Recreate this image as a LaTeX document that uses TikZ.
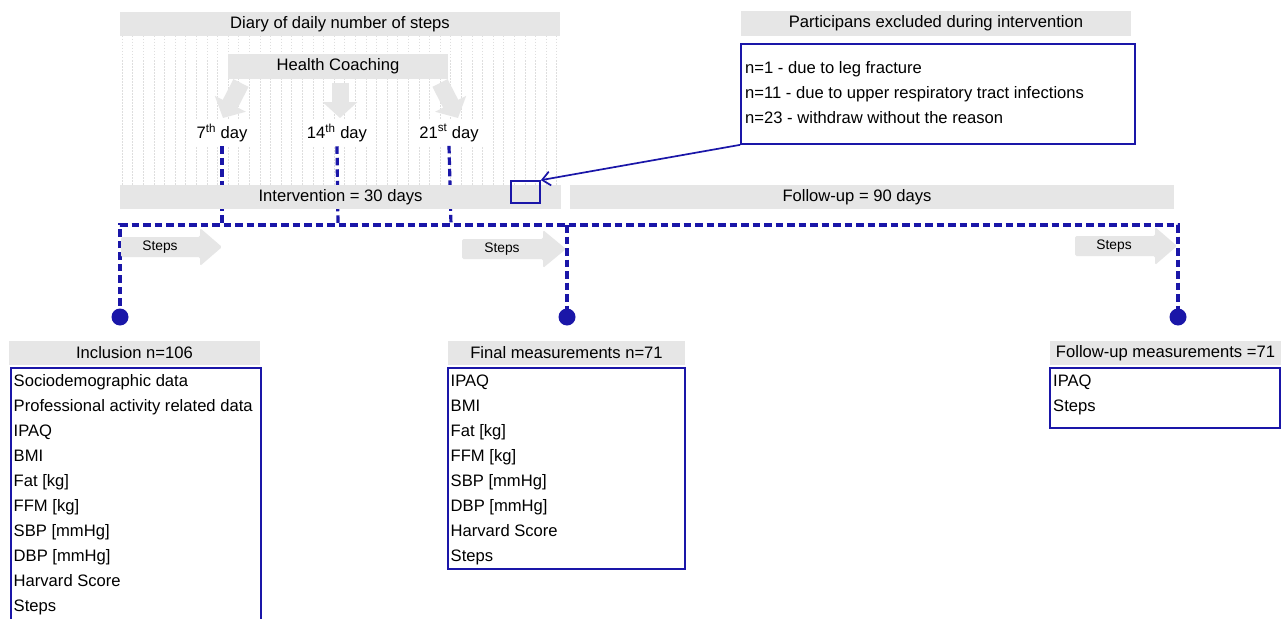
\documentclass[tikz,border=0pt]{standalone}
\usepackage{fontspec}
\setmainfont{Liberation Sans}
\usetikzlibrary{arrows.meta,calc}
\definecolor{myblue}{RGB}{26,22,168}
\definecolor{bargrey}{RGB}{230,230,230}
\definecolor{gridgrey}{RGB}{222,222,222}
\newcommand{\stepsarrow}[4]{% x0, x1 (head start), xtip, yc
  \fill[bargrey,rounded corners=1.5pt] (#1,#4-10) -- (#2,#4-10) -- (#2,#4-19) -- (#3,#4) -- (#2,#4+19) -- (#2,#4+10) -- (#1,#4+10) -- cycle;}
\newcommand{\itm}[1]{\strut#1}
\begin{document}
\begin{tikzpicture}[x=1pt,y=-1pt,
  font=\fontsize{16.6}{25}\selectfont,
  bar/.style={fill=bargrey, inner sep=0pt, minimum height=24pt},
  boxline/.style={draw=myblue, line width=1.7pt},
  listtext/.style={inner sep=0pt, align=left, anchor=north west},
  dashline/.style={draw=myblue, line width=3.2pt, dash pattern=on 7.5pt off 4pt},
  dot/.style={circle, fill=myblue, minimum size=17pt, inner sep=0pt},
  hcarrow/.style={bargrey, line width=17pt, -{Triangle[width=34pt,length=16pt]}},
  stepslabel/.style={font=\fontsize{13.8}{16}\selectfont, inner sep=0pt},
  daylabel/.style={fill=white, inner sep=4pt}
]
\useasboundingbox (0,0) rectangle (1284,618);
\fill[white] (0,0) rectangle (1284,618);

% background grid of the diary
\foreach \x in {122,132.6,...,559}
  \draw[gridgrey, line width=0.6pt, dash pattern=on 1.5pt off 1.5pt] (\x,36) -- (\x,185);

% top bars
\node[bar, minimum width=440pt] (diary) at (340,24) {Diary of daily number of steps};
\node[bar, minimum width=220pt, minimum height=25pt] (hc) at (338,66.5) {Health Coaching};

% health coaching arrows
\coordinate (h1a) at (241,83);  \coordinate (h1b) at (223,118);
\coordinate (h2a) at (340,83);  \coordinate (h2b) at (340,118);
\coordinate (h3a) at (440,83);  \coordinate (h3b) at (458,118);
\draw[hcarrow] (h1a) -- (h1b);
\draw[hcarrow] (h2a) -- (h2b);
\draw[hcarrow] (h3a) -- (h3b);

% day labels
\node[daylabel] (d7) at (222,133) {7\textsuperscript{th} day};
\node[daylabel] (d14) at (337,133) {14\textsuperscript{th} day};
\node[daylabel] (d21) at (449,133) {21\textsuperscript{st} day};

% timeline coordinates
\coordinate (t7) at (222,225);
\coordinate (t14) at (338,225);
\coordinate (t21) at (451,225);
\coordinate (cA) at (120,225);
\coordinate (cB) at (567,225);
\coordinate (cC) at (1178,225);

\draw[dashline] (d7.south) -- (t7);
\draw[dashline] (d14.south) -- (t14);
\draw[dashline] (d21.south) -- (t21);

% dots
\node[dot] (dotA) at (120,317) {};
\node[dot] (dotB) at (567,317) {};
\node[dot] (dotC) at (1178,317) {};

\draw[dashline] (dotA.center) -- (cA) -- (cC) -- (dotC.center);
\draw[dashline] (cB) -- (dotB.center);

% period bars
\node[bar, minimum width=441pt] (interv) at (340.5,197) {Intervention = 30 days};
\node[bar, minimum width=604pt] (follow) at (872,197) {};
\node[inner sep=0pt] (followtxt) at (857,197) {Follow-up = 90 days};

% steps arrows
\stepsarrow{121}{200}{222}{247}
\node[stepslabel] (s1) at (160,247) {Steps};
\stepsarrow{462}{543}{566}{249}
\node[stepslabel] (s2) at (502,249) {Steps};
\stepsarrow{1075}{1155}{1177}{246}
\node[stepslabel] (s3) at (1114,246) {Steps};

% excluded participants
\node[bar, minimum width=390pt, minimum height=25pt] (exhead) at (936,23.5) {Participans excluded during intervention};
\node[boxline, minimum width=394pt, minimum height=100pt, inner sep=0pt] (exbox) at (938,94) {};
\node[listtext] (extext) at (745,55.5) {\itm{n=1 - due to leg fracture}\\\itm{n=11 - due to upper respiratory tract infections}\\\itm{n=23 - withdraw without the reason}};
\node[boxline, minimum width=29pt, minimum height=22pt, inner sep=0pt] (mark) at (525.5,192) {};
\draw[myblue, line width=1.7pt, -{Straight Barb[length=8pt,width=14pt]}] (exbox.south west) -- (mark.north east);

% inclusion
\node[bar, minimum width=251pt] (inhead) at (134.5,353) {Inclusion n=106};
\draw[boxline] (11,630) -- (11,368) -- (261,368) -- (261,630);
\node[listtext] (intext) at (13.5,368.5) {\itm{Sociodemographic data}\\\itm{Professional activity related data}\\\itm{IPAQ}\\\itm{BMI}\\\itm{Fat [kg]}\\\itm{FFM [kg]}\\\itm{SBP [mmHg]}\\\itm{DBP [mmHg]}\\\itm{Harvard Score}\\\itm{Steps}};

% final
\node[bar, minimum width=237pt] (fihead) at (566.5,353) {Final measurements n=71};
\node[boxline, minimum width=237pt, minimum height=201pt, inner sep=0pt] (fibox) at (566.5,468.5) {};
\node[listtext] (fitext) at (450.5,368.5) {\itm{IPAQ}\\\itm{BMI}\\\itm{Fat [kg]}\\\itm{FFM [kg]}\\\itm{SBP [mmHg]}\\\itm{DBP [mmHg]}\\\itm{Harvard Score}\\\itm{Steps}};

% follow-up
\node[bar, minimum width=231pt] (fuhead) at (1165.5,353) {Follow-up measurements =71};
\node[boxline, minimum width=230pt, minimum height=60pt, inner sep=0pt] (fubox) at (1165,398) {};
\node[listtext] (futext) at (1053,368.5) {\itm{IPAQ}\\\itm{Steps}};
\end{tikzpicture}
\end{document}
